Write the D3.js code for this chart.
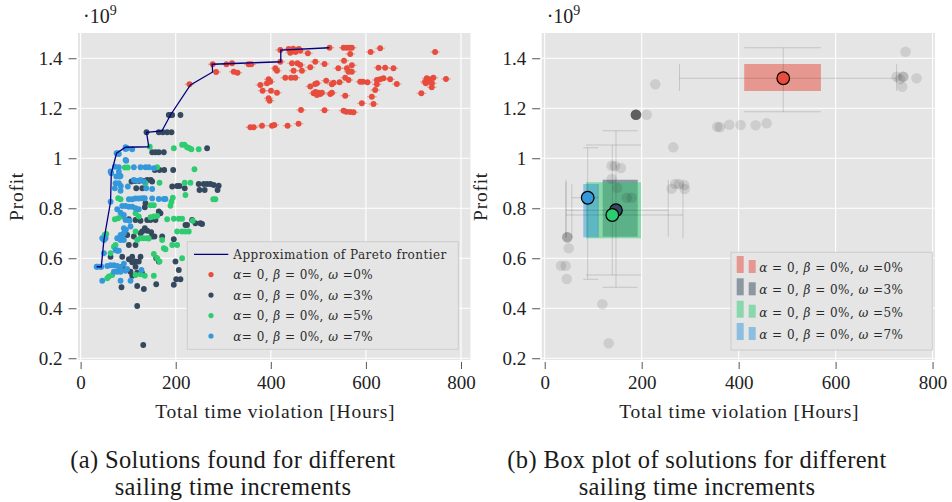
<!DOCTYPE html>
<html><head><meta charset="utf-8">
<script src="https://cdn.jsdelivr.net/npm/d3@7/dist/d3.min.js"></script>
<style>
html,body{margin:0;padding:0;background:#fff;}
svg{display:block;}
</style></head><body>
<svg id="chart" width="952" height="502"></svg>
<script>
// ---------------- DATA ----------------
const seriesNames = ["ω =0%", "ω =3%", "ω =5%", "ω =7%"];
const xTicks = [0, 200, 400, 600, 800];
const yTicks = [0.2, 0.4, 0.6, 0.8, 1.0, 1.2, 1.4];

// (a) solutions: [total time violation (hours), profit (×1e9)]
const red0 = [
[229,1.296],[277.8,1.376],[285,1.345],[306.6,1.376],[318.5,1.380],[322,1.346],[330,1.342],[353.4,1.376],[359,1.376],
[420,1.386],[420,1.433],[437.5,1.437],[441,1.422],[444.5,1.433],[447,1.438],[451.5,1.430],[452,1.425],[456,1.433],[459,1.437],[462,1.430],[478,1.420],
[523.5,1.442],[553,1.442],[560,1.442],[565.5,1.442],[570.5,1.442],[567,1.417],[610,1.425],[630,1.440],[745.5,1.425],
[444.5,1.380],[456,1.380],[462,1.373],[493.5,1.386],[513,1.377],[554,1.390],[570.5,1.372],[542,1.360],[560,1.360],[563.5,1.346],[570.5,1.346],
[409.5,1.360],[413,1.350],[448,1.350],[465.5,1.350],[483,1.364],[626.5,1.362],[640.5,1.362],[658,1.360],
[395.4,1.316],[399,1.306],[392,1.300],[378,1.293],[430.5,1.322],[442.4,1.322],[451.5,1.322],[497,1.300],[493.5,1.297],[516.5,1.310],
[532,1.302],[528.5,1.296],[544.5,1.304],[556.5,1.322],[563.5,1.313],[588,1.306],[593.6,1.306],[603.4,1.304],[623,1.313],[630,1.316],
[637,1.320],[651,1.316],[623,1.296],[665,1.297],[728,1.320],[735,1.316],[742,1.322],[724.5,1.306],[731.5,1.306],[734,1.312],[739,1.300],[726,1.300],
[768.5,1.317],[738.5,1.284],[716.6,1.260],
[382.8,1.270],[400.4,1.270],[413,1.262],[483,1.287],[490,1.260],[494,1.265],[497,1.253],[500,1.262],[504,1.257],[507.5,1.262],[525,1.257],[528.5,1.262],
[556.5,1.250],[619.5,1.273],[612.5,1.246],[395.4,1.240],[397.5,1.230],
[591.5,1.220],[616,1.217],[463.5,1.193],[513,1.192],[553,1.190],[558.6,1.186],[567,1.185],[574,1.184],
[357,1.124],[364,1.124],[381.5,1.130],[402.5,1.130],[407.4,1.133],[435.3,1.130],[458.4,1.138]
];
const dark3 = [
[138.6,1.104],[164.5,1.104],[172.8,1.104],[182,1.104],[191.1,1.104],
[185.4,1.173],[189,1.173],[192.6,1.173],[210,1.173],
[150.6,1.024],[157.5,1.024],[164.4,1.024],[175,1.024],[266,1.040],
[156,0.953],[166,0.953],[175.8,0.953],[194.7,0.953],
[107,0.907],[115.5,0.909],[122.4,0.909],[133,0.909],[140,0.913],[147.6,0.913],[150.5,0.907],[117,0.880],[129.6,0.880],
[192.6,0.887],[203,0.889],[208,0.889],[219,0.880],
[248.4,0.897],[259,0.897],[266,0.897],[273,0.897],[280,0.893],[290.4,0.890],[250,0.873],[261,0.873],[288,0.873],
[136.5,0.820],[135,0.804],[164.4,0.787],[168,0.780],
[101.5,0.756],[115.5,0.753],[126,0.750],[140,0.753],[147,0.753],[157.5,0.753],
[224,0.733],[234.5,0.753],[241.5,0.740],[252,0.740],[255.5,0.737],[220.5,0.733],
[94.5,0.713],[98,0.693],[112,0.687],[126,0.700],[135,0.720],[140,0.710],[148.4,0.704],[155.4,0.687],[171.5,0.687],[196,0.676],
[129.5,0.707],[150.5,0.687],[101.5,0.653],[115.5,0.653],
[63,0.606],[87.5,0.606],[108.5,0.606],[126,0.606],[101.5,0.596],[108.5,0.584],[115.5,0.587],[122.4,0.587],[159,0.600],[164.4,0.587],[199.5,0.587],
[115.5,0.566],[87.5,0.566],[105,0.546],[108.5,0.530],[119,0.542],[129.5,0.540],
[86,0.484],[119,0.489],[133,0.477],[159,0.496],[196,0.494],[201,0.516],[210,0.516],[206.5,0.553],
[119,0.409],[131.7,0.253]
];
const green5 = [
[145.5,1.046],[196,1.040],[213.5,1.054],[218.4,1.054],[224,1.044],[229,1.040],[233,1.036],[248.4,1.036],
[93,0.963],[99.3,0.963],[161,0.964],[239.4,0.956],
[219,0.902],[231,0.902],[166,0.902],[136.5,0.900],
[220.5,0.853],[283.5,0.836],[279,0.836],[194,0.842],[191,0.826],[189,0.810],[79,0.840],[84,0.836],
[79,0.760],[72,0.756],[87.5,0.767],[115.5,0.780],[122.4,0.767],[147,0.764],[154,0.767],[161,0.769],[147,0.812],[154,0.812],
[182,0.756],[196,0.758],[206.5,0.758],[213.5,0.758],[236,0.750],
[203,0.707],[213.5,0.707],[227.5,0.707],[115.5,0.707],[126,0.680],[143.4,0.679],[220.5,0.707],
[50.4,0.693],[54,0.697],[73.5,0.653],[70,0.646],[119,0.673],[133,0.680],[140,0.680],[171.5,0.673],[192.6,0.653],[203,0.653],
[175,0.640],[178.5,0.636],[63,0.620],[154,0.617],[161,0.600],[166,0.587],[213.5,0.600],
[56,0.520],[59.5,0.527],[66.5,0.533],[115.5,0.533],[126,0.536],[135,0.530],[154,0.530]
];
const blue7 = [
[33.6,0.566],[43.5,0.566],[49,0.673],[63,0.826],[64.5,0.94],[75.6,1.02],[94.5,1.044],
[94.5,1.037],[98,1.040],[108.5,1.036],[78.3,1.020],[96,0.990],[72,0.966],[80.4,0.964],[112,0.964],[126,0.964],[136.5,0.964],[143.4,0.964],[154,0.960],
[80.4,0.946],[84,0.929],[75,0.927],[82,0.927],[73.5,0.900],[80.4,0.900],[84.6,0.889],[112,0.913],[119,0.909],[126,0.913],[133,0.907],
[99.3,0.887],[138,0.880],[150.5,0.877],[84,0.870],[72,0.880],
[101.5,0.836],[108.5,0.836],[115.5,0.839],[122.4,0.839],[129.5,0.840],[135,0.840],[150.5,0.839],[164.4,0.837],[175,0.837],[178.5,0.837],
[77,0.796],[87.5,0.809],[94.5,0.809],[101.5,0.806],[108.5,0.806],[115.5,0.800],[122.4,0.796],[84,0.782],[91,0.773],[94.5,0.753],[103,0.750],[105,0.727],[91,0.720],
[45.5,0.680],[52.5,0.680],[77,0.680],[87.5,0.687],[84,0.693],[91,0.700],[94.5,0.713],[84,0.673],[91,0.673],[73.5,0.633],[77,0.630],[80.4,0.630],[49,0.620],
[35,0.566],[42,0.566],[56,0.569],[63,0.572],[70,0.572],[77,0.569],[84,0.564],[91,0.578],[98,0.557],[70,0.546],[77,0.546],[84,0.546],[94.5,0.550],[128,0.553],
[45.5,0.510],[84,0.510],[105,0.510],[63,0.947],[80.4,1.017],[94.5,0.993]
];
const frontier = [[33.6,0.566],[43.5,0.566],[49,0.673],[63,0.826],[64.5,0.94],[75.6,1.02],[94.5,1.044],[143.4,1.046],[138.6,1.104],
[171,1.109],[189,1.173],[231,1.293],[277.8,1.345],[276.5,1.376],[336,1.380],[421,1.386],[421,1.433],[523.5,1.442]];
const redXErr = 10;

// (b) box plot statistics per series (order: ω=0,3,5,7)
const meanX = [492, 147, 139.4, 88.7];
const meanY = [1.320, 0.792, 0.773, 0.842];
const boxLoX = [411.5, 119.6, 85.2, 79.6];
const boxHiX = [569.7, 191.8, 198.6, 110.5];
const boxLoY = [1.269, 0.686, 0.680, 0.684];
const boxHiY = [1.377, 0.914, 0.904, 0.897];
const whiskLoX = [278, 43.9, 43.9, 56];
const whiskHiX = [725.8, 254.8, 285.2, 110.5];
const whiskLoY = [1.186, 0.484, 0.533, 0.516];
const whiskHiY = [1.442, 1.110, 1.053, 1.042];
// grey frontier points in (b)
const greyPts = [
[744.3,1.426],[725.8,1.326],[732.6,1.316],[739.4,1.326],[739.4,1.326],[737.3,1.286],[767,1.320],
[228,1.296],[188.2,1.174],[188.2,1.174],[188.2,1.174],[188.2,1.174],[188.2,1.174],[188.2,1.174],[188.2,1.174],[188.2,1.174],[210.3,1.174],
[355.9,1.126],[361.4,1.124],[380.6,1.134],[404.1,1.133],[435,1.132],[457.7,1.140],[265.2,1.044],
[138.1,0.970],[145,0.969],[157.3,0.961],[138.1,0.917],[149.7,0.882],[169.1,0.842],[179.4,0.842],
[261.9,0.878],[269.3,0.897],[276.9,0.897],[287.8,0.893],[288.7,0.877],
[46.6,0.684],[46.6,0.684],[46.6,0.684],[49.5,0.640],[33.6,0.570],[43.3,0.570],[45.4,0.517],[118.8,0.416],[132,0.260]
];

// ---------------- DRAW ----------------
const svg = d3.select("#chart");
const SERIF = "'Liberation Serif','Times New Roman',serif";
const BG = "#e5e5e5";
const colors = ["#e74c3c", "#34495e", "#2ecc71", "#3498db"];
const fmt = d => String(+d.toFixed(1));

const plotY = {y0: 33, y1: 360};
const yS = d3.scaleLinear().domain([0.193, 1.501]).range([plotY.y1, plotY.y0]);
const L = {x0: 78, x1: 470.5};
const R = {x0: 541.7, x1: 935};
const xL = d3.scaleLinear().domain([-5.5, 820]).range([L.x0, L.x1]);
const xR = d3.scaleLinear().domain([-6.2, 805]).range([R.x0, R.x1]);

function frame(P, xs) {
  const g = svg.append("g");
  g.append("rect").attr("x", P.x0).attr("y", plotY.y0).attr("width", P.x1 - P.x0)
    .attr("height", plotY.y1 - plotY.y0).attr("fill", BG);
  g.selectAll(null).data(xTicks).join("line")
    .attr("x1", d => xs(d)).attr("x2", d => xs(d)).attr("y1", plotY.y0).attr("y2", plotY.y1)
    .attr("stroke", "#fff").attr("stroke-width", 1.1);
  g.selectAll(null).data(yTicks).join("line")
    .attr("x1", P.x0).attr("x2", P.x1).attr("y1", d => yS(d)).attr("y2", d => yS(d))
    .attr("stroke", "#fff").attr("stroke-width", 1.1);
  const ya = g.append("g").attr("transform", `translate(${P.x0 - 1.5},0)`)
    .call(d3.axisLeft(yS).tickValues(yTicks).tickSize(8).tickPadding(6).tickFormat(fmt));
  const xa = g.append("g").attr("transform", `translate(0,${plotY.y1 + 2})`)
    .call(d3.axisBottom(xs).tickValues(xTicks).tickSize(7).tickPadding(7).tickFormat(d3.format("d")));
  [ya, xa].forEach(a => {
    a.select(".domain").remove();
    a.selectAll(".tick line").attr("stroke", "#555").attr("stroke-width", 1);
    a.selectAll(".tick text").attr("fill", "#222").style("font-family", SERIF).style("font-size", "19px");
  });
  const cx = (P.x0 + P.x1) / 2;
  g.append("text").attr("x", cx + 1).attr("y", 418).attr("text-anchor", "middle")
    .style("font-family", SERIF).style("font-size", "19.5px").style("letter-spacing", "0.75px")
    .attr("fill", "#222").text("Total time violation [Hours]");
  g.append("text").attr("transform", `translate(${P.x0 - 62},196.5) rotate(-90)`).attr("text-anchor", "middle")
    .attr("dy", "0.35em").style("font-family", SERIF).style("font-size", "19.5px").style("letter-spacing", "0.75px")
    .attr("fill", "#222").text("Profit");
  const e = g.append("text").attr("x", P.x0 + 5).attr("y", 23).attr("fill", "#222").style("font-family", SERIF);
  e.append("tspan").style("font-size", "20px").text("·10");
  e.append("tspan").style("font-size", "14px").attr("dy", -8).text("9");
  return g;
}

// ---- Panel (a)
const gA = frame(L, xL);
const all = [red0, dark3, green5, blue7];
gA.append("g").selectAll("line").data(red0).join("line")
  .attr("x1", d => xL(d[0] - redXErr)).attr("x2", d => xL(d[0] + redXErr))
  .attr("y1", d => yS(d[1])).attr("y2", d => yS(d[1]))
  .attr("stroke", colors[0]).attr("stroke-opacity", 0.5).attr("stroke-width", 1.1);
all.forEach((s, i) => {
  gA.append("g").selectAll("circle").data(s).join("circle")
    .attr("cx", d => xL(d[0])).attr("cy", d => yS(d[1])).attr("r", 2.9).attr("fill", colors[i]);
});
gA.append("path").datum(frontier)
  .attr("d", d3.line().x(d => xL(d[0])).y(d => yS(d[1])))
  .attr("fill", "none").attr("stroke", "#000080").attr("stroke-width", 1.3);

function greekLabel(sel, omega, spaced) {
  sel.append("tspan").style("font-style", "italic").text("α");
  sel.append("tspan").text(spaced ? " = 0, " : "= 0, ");
  sel.append("tspan").style("font-style", "italic").text("β");
  sel.append("tspan").text(" = 0%, ");
  sel.append("tspan").style("font-style", "italic").text("ω");
  sel.append("tspan").text(" =" + omega);
}
const omegas = ["0%", "3%", "5%", "7%"];
const LEGFONT = {family: "'DejaVu Serif',serif", size: "12px", ls: "0.45px"};

// legend (a)
const lgA = gA.append("g");
lgA.append("rect").attr("x", 187.3).attr("y", 241.7).attr("width", 271).attr("height", 107.6)
  .attr("fill", "#e5e5e5").attr("stroke", "#cccccc").attr("stroke-width", 1);
lgA.append("line").attr("x1", 194).attr("x2", 228.3).attr("y1", 254.3).attr("y2", 254.3)
  .attr("stroke", "#000080").attr("stroke-width", 1.3);
const rowsA = [254.3, 274.6, 295.1, 315.6, 336];
lgA.append("text").attr("x", 233.3).attr("y", rowsA[0] + 4.3).attr("fill", "#2a2a2a")
  .style("font-family", LEGFONT.family).style("font-size", LEGFONT.size).style("letter-spacing", LEGFONT.ls)
  .text("Approximation of Pareto frontier");
omegas.forEach((o, i) => {
  lgA.append("circle").attr("cx", 211).attr("cy", rowsA[i + 1]).attr("r", 2.6).attr("fill", colors[i]);
  const t = lgA.append("text").attr("x", 233.3).attr("y", rowsA[i + 1] + 4.5).attr("fill", "#2a2a2a")
    .style("font-family", LEGFONT.family).style("font-size", LEGFONT.size).style("letter-spacing", LEGFONT.ls);
  greekLabel(t, o, false);
});

// ---- Panel (b)
const gB = frame(R, xR);
const WH = "rgba(0,0,0,0.14)";
for (let i = 0; i < 4; i++) {
  gB.append("rect").attr("x", xR(boxLoX[i])).attr("y", yS(boxHiY[i]))
    .attr("width", xR(boxHiX[i]) - xR(boxLoX[i])).attr("height", yS(boxLoY[i]) - yS(boxHiY[i]))
    .attr("fill", colors[i]).attr("fill-opacity", 0.5);
}
for (let i = 0; i < 4; i++) {
  const w = gB.append("g").attr("stroke", WH).attr("stroke-width", 1).attr("fill", "none");
  w.append("line").attr("x1", xR(whiskLoX[i])).attr("x2", xR(whiskHiX[i])).attr("y1", yS(meanY[i])).attr("y2", yS(meanY[i]));
  [whiskLoX[i], whiskHiX[i]].forEach(v => w.append("line").attr("x1", xR(v)).attr("x2", xR(v))
    .attr("y1", yS(boxHiY[i])).attr("y2", yS(boxLoY[i])));
  w.append("line").attr("x1", xR(meanX[i])).attr("x2", xR(meanX[i])).attr("y1", yS(whiskLoY[i])).attr("y2", yS(whiskHiY[i]));
  [whiskLoY[i], whiskHiY[i]].forEach(v => w.append("line").attr("x1", xR(boxLoX[i])).attr("x2", xR(boxHiX[i]))
    .attr("y1", yS(v)).attr("y2", yS(v)));
}
gB.append("g").selectAll("circle").data(greyPts).join("circle")
  .attr("cx", d => xR(d[0])).attr("cy", d => yS(d[1])).attr("r", 5.3)
  .attr("fill", "#000").attr("fill-opacity", 0.1);
for (let i = 0; i < 4; i++) {
  gB.append("circle").attr("cx", xR(meanX[i])).attr("cy", yS(meanY[i])).attr("r", 6.3)
    .attr("fill", colors[i]).attr("stroke", "#000").attr("stroke-width", 1.2);
}
// legend (b)
const lgB = gB.append("g");
lgB.append("rect").attr("x", 731).attr("y", 252.3).attr("width", 201.3).attr("height", 97.7)
  .attr("fill", "#e5e5e5").attr("stroke", "#cccccc").attr("stroke-width", 1);
const rowsB = [273, 295.3, 317.7, 340];
omegas.forEach((o, i) => {
  const b = rowsB[i];
  lgB.append("rect").attr("x", 736.7).attr("y", b - 17).attr("width", 7).attr("height", 17)
    .attr("fill", colors[i]).attr("fill-opacity", 0.5);
  lgB.append("rect").attr("x", 748.7).attr("y", b - 13).attr("width", 7).attr("height", 13)
    .attr("fill", colors[i]).attr("fill-opacity", 0.5);
  const t = lgB.append("text").attr("x", 759.3).attr("y", b - 1).attr("fill", "#2a2a2a")
    .style("font-family", LEGFONT.family).style("font-size", LEGFONT.size).style("letter-spacing", LEGFONT.ls);
  greekLabel(t, o, true);
});

// ---- captions
const caps = [
  {x: 233, lines: ["(a) Solutions found for different", "sailing time increments"]},
  {x: 697, lines: ["(b) Box plot of solutions for different", "sailing time increments"]}
];
caps.forEach(c => {
  c.lines.forEach((l, j) => {
    svg.append("text").attr("x", c.x).attr("y", j === 0 ? 468 : 495).attr("text-anchor", "middle")
      .attr("fill", "#1a1a1a").style("font-family", SERIF).style("font-size", "24.5px").style("letter-spacing", "0.35px")
      .text(l);
  });
});
</script>
</body></html>
